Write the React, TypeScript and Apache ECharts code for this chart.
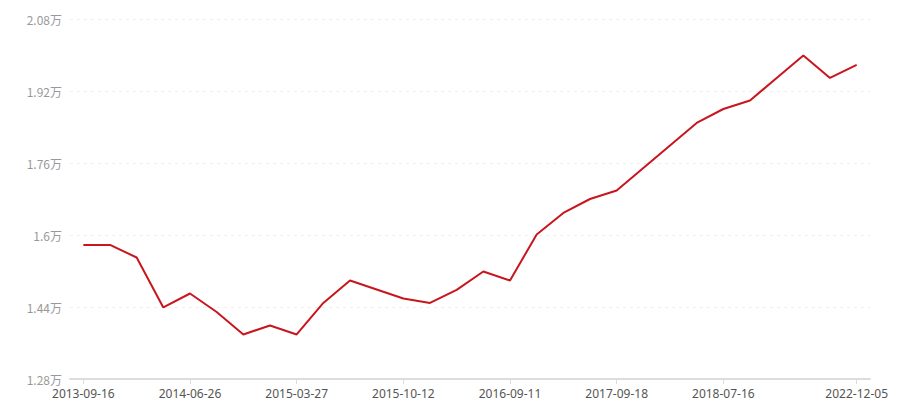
import React, { useEffect, useRef } from "react";
import * as echarts from "echarts";

const dates: string[] = [
  "2013-09-16", "2013-11-28", "2014-02-10", "2014-04-18", "2014-06-26",
  "2014-09-03", "2014-11-12", "2015-01-19", "2015-03-27", "2015-05-14",
  "2015-07-01", "2015-08-24", "2015-10-12", "2015-12-30", "2016-03-18",
  "2016-06-07", "2016-09-11", "2016-12-12", "2017-03-20", "2017-06-19",
  "2017-09-18", "2017-12-04", "2018-02-12", "2018-04-30", "2018-07-16",
  "2019-05-20", "2020-06-15", "2021-07-19", "2022-03-07", "2022-12-05",
];

const values: number[] = [
  15780, 15780, 15500, 14390, 14700, 14290, 13790, 13990, 13790, 14490,
  14990, 14790, 14590, 14490, 14780, 15190, 14990, 16010, 16490, 16800,
  16990, 17490, 17990, 18490, 18800, 18990, 19490, 19990, 19490, 19780,
];

const labelIndices: number[] = [0, 4, 8, 12, 16, 20, 24, 29];

export default function App() {
  const ref = useRef<HTMLDivElement>(null);
  useEffect(() => {
    if (!ref.current) return;
    const chart = echarts.init(ref.current, null, { renderer: "svg" });
    const showAt = (i: number) => labelIndices.indexOf(i) >= 0;
    chart.setOption({
      animation: false,
      grid: { left: 62, right: 22, top: 11, bottom: 21, containLabel: false },
      xAxis: {
        type: "category",
        data: dates,
        boundaryGap: true,
        axisLine: { lineStyle: { color: "#dcdcdc", width: 2 } },
        axisTick: {
          show: true,
          alignWithLabel: true,
          interval: (i: number) => showAt(i),
          length: 5,
          lineStyle: { color: "#dcdcdc" },
        },
        axisLabel: {
          interval: (i: number) => showAt(i),
          color: "#555",
          fontSize: 12,
          margin: 8,
          fontFamily: "'Noto Sans', sans-serif",
        },
        splitLine: { show: false },
      },
      yAxis: {
        type: "value",
        min: 12800,
        max: 20800,
        interval: 1600,
        axisLine: { show: false },
        axisTick: { show: false },
        axisLabel: {
          color: "#999",
          fontSize: 12,
          margin: 8,
          fontFamily: "'Noto Sans CJK SC', sans-serif",
          formatter: (v: number) => parseFloat((v / 10000).toFixed(2)) + "万",
        },
        splitLine: {
          show: true,
          lineStyle: { color: "#eeeeee", type: [3, 4], width: 1 },
        },
      },
      series: [
        {
          type: "line",
          data: values,
          symbol: "none",
          lineStyle: { color: "#c8161e", width: 2 },
          itemStyle: { color: "#c8161e" },
        },
      ],
    });
    return () => chart.dispose();
  }, []);
  return <div ref={ref} style={{ width: 884, height: 392 }} />;
}
